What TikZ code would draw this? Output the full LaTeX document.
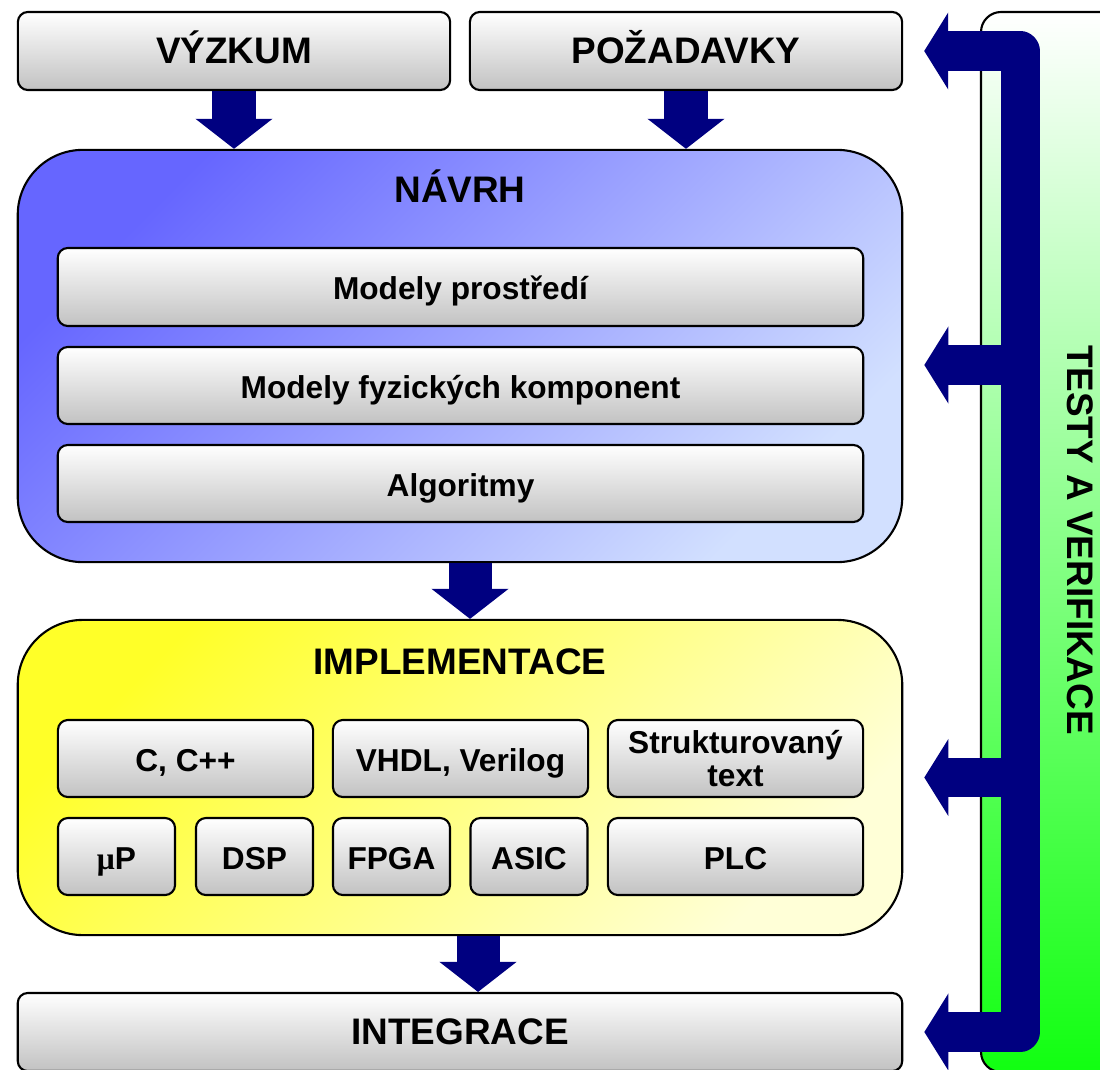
\documentclass[tikz,border=0pt]{standalone}
\usepackage{fontspec}
\setmainfont{Liberation Sans}
\newfontfamily\mufont{Liberation Serif}
\usetikzlibrary{arrows.meta}

\definecolor{arrowblue}{RGB}{0,0,128}
\definecolor{navrhtop}{RGB}{102,102,255}
\definecolor{navrhbottom}{RGB}{210,224,255}
\definecolor{impltop}{RGB}{255,255,40}
\definecolor{implbottom}{RGB}{255,255,215}
\definecolor{testbottom}{RGB}{17,255,17}

\tikzset{
    fbtip/.tip={Triangle[width=0.77cm, length=0.24cm, line width=0pt]},
    boxbase/.style={draw, line width=0.6pt, rounded corners=0.1cm, top color=white, bottom color=black!24,
        font=\bfseries\fontsize{9}{9.2}\selectfont, align=center, inner sep=0pt},
    box/.style={boxbase, text height=0.72em, text depth=0pt},
    headbox/.style={box, font=\bfseries\fontsize{10.5}{12}\selectfont},
    bigbox/.style={draw, line width=0.6pt, rounded corners=0.65cm, inner sep=0pt, minimum width=8.84cm},
    heading/.style={font=\bfseries\fontsize{10.5}{12}\selectfont, text height=0.72em, text depth=0pt},
    wide/.style={minimum width=2.55cm, minimum height=0.77cm},
    narrow/.style={minimum width=1.17cm, minimum height=0.77cm},
    downarrow/.style={draw=arrowblue, line width=0.43cm, -{Triangle[width=0.77cm, length=0.3cm, line width=0pt]}},
    feedback/.style={draw=arrowblue, line width=0.39cm, line join=round, -fbtip},
}

\begin{document}
\begin{tikzpicture}[x=0.01cm, y=-0.01cm]
    \clip (0,0) rectangle (1100,1070);

    % testy a verifikace
    \draw[line width=0.6pt, rounded corners=0.2cm, top color=white, bottom color=testbottom] (981,12) rectangle (1140,1072);
    \node[heading, rotate=-90] (testy) at (1080,540) {TESTY A VERIFIKACE};

    \node[headbox, minimum width=4.32cm, minimum height=0.78cm] (vyzkum) at (234,51) {VÝZKUM};
    \node[headbox, minimum width=4.32cm, minimum height=0.78cm] (pozadavky) at (686,51) {POŽADAVKY};

    % navrh
    \node[bigbox, top color=navrhtop, bottom color=navrhbottom, shading angle=45, minimum height=4.12cm] (navrh) at (460,356) {};
    \node[heading] (navrhtitle) at (460,190) {NÁVRH};
    \node[box, minimum width=8.05cm, minimum height=0.78cm] (prostredi) at (460.5,287) {Modely prostředí};
    \node[box, minimum width=8.05cm, minimum height=0.77cm] (fyzicke) at (460.5,385.5) {Modely fyzických komponent};
    \node[box, minimum width=8.05cm, minimum height=0.77cm] (algoritmy) at (460.5,483.5) {Algoritmy};

    % implementace
    \node[bigbox, top color=impltop, bottom color=implbottom, shading angle=45, minimum height=3.15cm] (impl) at (460,777.5) {};
    \node[heading] (impltitle) at (460,662) {IMPLEMENTACE};
    \node[box, wide] (cpp) at (185.5,758.5) {C, C++};
    \node[box, wide] (vhdl) at (460.5,758.5) {VHDL, Verilog};
    \node[boxbase, wide] (st) at (735.5,758.5) {Strukturovaný\\text};
    \node[box, narrow] (mup) at (116.5,856.5) {{\mufont μ}P};
    \node[box, narrow] (dsp) at (254.5,856.5) {DSP};
    \node[box, narrow] (fpga) at (391.5,856.5) {FPGA};
    \node[box, narrow] (asic) at (529,856.5) {ASIC};
    \node[box, wide] (plc) at (735.5,856.5) {PLC};

    \node[headbox, minimum width=8.84cm, minimum height=0.78cm] (integrace) at (460,1032) {INTEGRACE};

    \draw[downarrow] (vyzkum.south) -- (vyzkum.south |- navrh.north);
    \draw[downarrow] (pozadavky.south) -- (pozadavky.south |- navrh.north);
    \draw[downarrow] ([xshift=0.1cm]navrh.south) -- ([xshift=0.1cm]impl.north);
    \draw[downarrow] ([xshift=0.18cm]impl.south) -- ([xshift=0.18cm]integrace.north);

    % zpetna vazba
    \coordinate (bus) at (1020,0);
    \draw[feedback, fbtip-fbtip] ([xshift=0.21cm]pozadavky.east) -- (pozadavky.east -| bus)
        -- (integrace.east -| bus) -- ([xshift=0.21cm]integrace.east);
    \draw[feedback] ([yshift=-0.09cm]navrh.east -| bus) -- ([xshift=0.21cm, yshift=-0.09cm]navrh.east);
    \draw[feedback] (impl.east -| bus) -- ([xshift=0.21cm]impl.east);
\end{tikzpicture}
\end{document}
